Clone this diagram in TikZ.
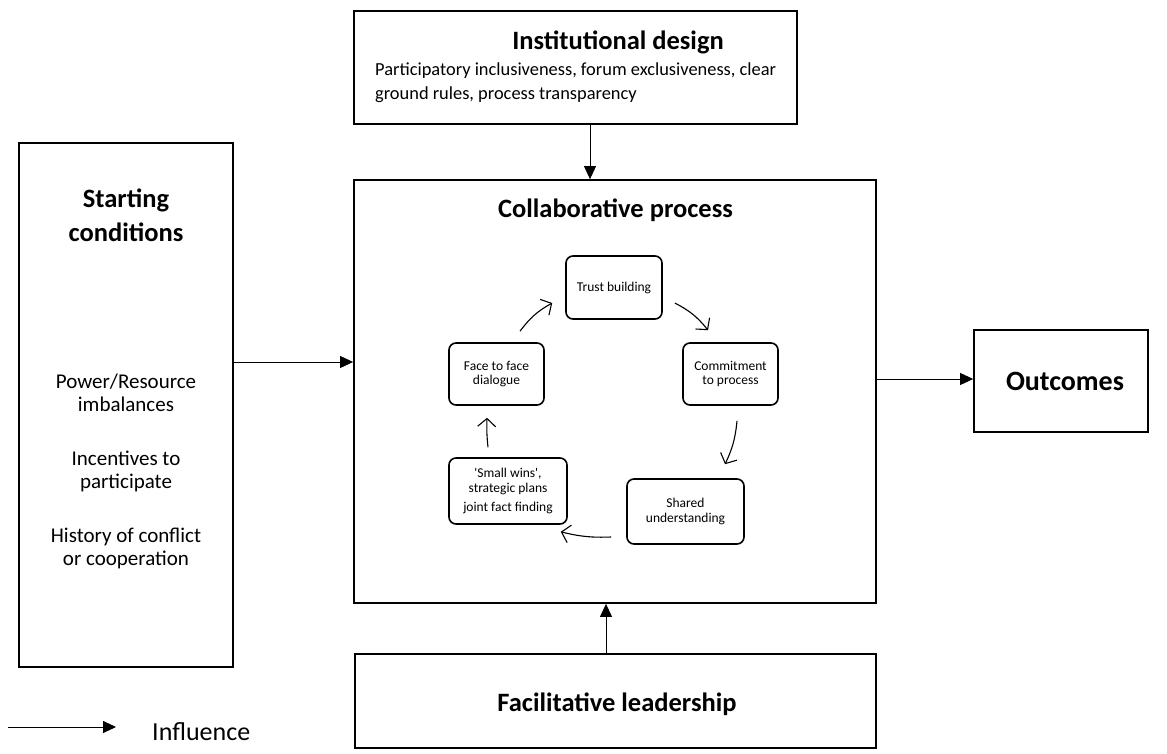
\documentclass[tikz,border=0pt]{standalone}
\usepackage{fontspec}
\setmainfont{Carlito}
\newfontfamily\rawfont{Carlito}[Ligatures=TeXOff]
\usetikzlibrary{arrows.meta}
\begin{document}
\begin{tikzpicture}[x=1pt,y=-1pt,
  box/.style={draw,line width=1.8pt,rectangle,inner sep=0pt},
  cyc/.style={draw,line width=1.6pt,rounded corners=7pt,inner sep=0pt,align=center,
    font=\fontsize{13.5}{14.5}\selectfont},
  title/.style={font=\fontsize{26.5}{34}\selectfont\bfseries,align=center,inner sep=0pt},
  body/.style={font=\fontsize{21}{23}\selectfont,align=center,inner sep=0pt},
  infl/.style={-{Triangle[length=13pt,width=12pt]},line width=0.9pt},
  cyca/.style={-{Straight Barb[length=8pt,width=18pt,line width=1.1pt]},line width=1.1pt}]
\useasboundingbox (0,0) rectangle (1167,754);
% boxes
\node[box,minimum width=443pt,minimum height=113pt] (inst) at (575.5,67.5) {};
\node[box,minimum width=522pt,minimum height=423pt] (collab) at (615,391.5) {};
\node[box,minimum width=214pt,minimum height=524pt] (start) at (126,405) {};
\node[box,minimum width=174pt,minimum height=102pt] (out) at (1061,381) {};
\node[box,minimum width=521pt,minimum height=94pt] (fac) at (615.5,701) {};
% texts
\node[title] (instT) at (618,42) {Institutional design};
\node[body,align=left,anchor=west,font=\fontsize{18.4}{24.5}\selectfont] (instB) at (375,82.5)
  {Participatory inclusiveness, forum exclusiveness, clear\\ground rules, process transparency};
\node[title] (collabT) at (615.5,210) {Collaborative process};
\node[title] (startT) at (126,215) {Starting\\conditions};
\node[body] (s1) at (126,393) {Power/Resource\\imbalances};
\node[body] (s2) at (126,471) {Incentives to\\participate};
\node[body] (s3) at (126,548) {History of conflict\\or cooperation};
\node[title,font=\fontsize{28}{30}\selectfont\bfseries] (outT) at (1065,381) {Outcomes};
\node[title] (facT) at (617,704) {Facilitative leadership};
% cycle
\node[cyc,minimum width=96pt,minimum height=63pt] (trust) at (614,287.5) {Trust building};
\node[cyc,minimum width=95pt,minimum height=62pt] (commit) at (730.5,374) {Commitment\\to process};
\node[cyc,minimum width=117pt,minimum height=65pt] (shared) at (685.5,511.5) {Shared\\understanding};
\node[cyc,minimum width=118pt,minimum height=66pt] (small) at (508,491) {{\rawfont'Small wins',}\\strategic plans\\[5pt]joint fact finding};
\node[cyc,minimum width=95pt,minimum height=62pt] (face) at (496.5,374) {Face to face\\dialogue};
\draw[cyca] ([shift={(23.5,-11)}]face.north) to[bend left=12] ([shift={(-13,15.5)}]trust.west);
\draw[cyca] ([shift={(12,15.5)}]trust.east) to[bend left=12] ([shift={(-22.5,-12)}]commit.north);
\draw[cyca] ([shift={(6.5,15)}]commit.south) to[bend left=10] ([shift={(39.5,-14)}]shared.north);
\draw[cyca] ([shift={(-15,25.5)}]shared.west) to[bend left=8] ([shift={(-7,7)}]small.south east);
\draw[cyca] ([shift={(-20,-10)}]small.north) to[bend left=4] ([shift={(-9.5,12)}]face.south);
% influence arrows
\draw[infl] (inst.south -| 590,0) -- (collab.north -| 590,0);
\draw[infl] (start.east |- 0,362) -- (collab.west |- 0,362);
\draw[infl] (collab.east |- 0,379) -- (out.west |- 0,379);
\draw[infl] (fac.north -| 606,0) -- (collab.south -| 606,0);
% legend
\coordinate (lgA) at (8,727);
\coordinate (lgB) at (116,727);
\draw[infl] (lgA) -- (lgB);
\node[body,anchor=west,font=\fontsize{26}{28}\selectfont] (lgT) at (152,732) {Influence};
\end{tikzpicture}
\end{document}
